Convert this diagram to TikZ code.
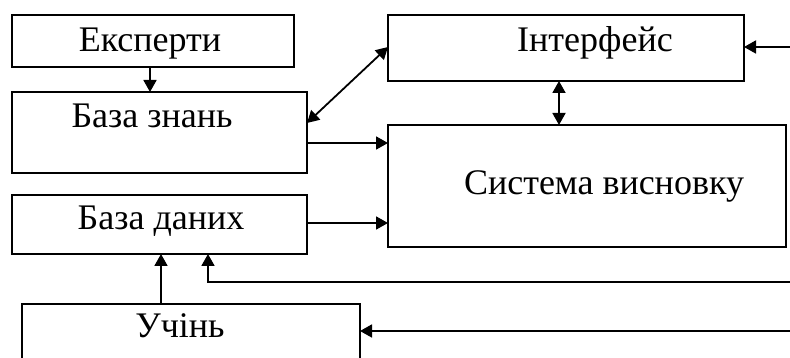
\documentclass[tikz,border=0pt]{standalone}
\usepackage{fontspec}
\setmainfont{Liberation Serif}
\usetikzlibrary{arrows.meta,calc}
\begin{document}
\begin{tikzpicture}[x=1pt,y=1pt,
  box/.style={draw, line width=1.8pt, inner sep=0pt, outer sep=0pt},
  lbl/.style={anchor=base, inner sep=0pt, font=\fontsize{36}{40}\selectfont},
  arr/.style={line width=1.8pt, -{Triangle[length=12pt,width=13pt]}},
  darr/.style={line width=1.8pt, {Triangle[length=12pt,width=13pt]}-{Triangle[length=12pt,width=13pt]}}]
\useasboundingbox (0,0) rectangle (790,358);
\clip (0,0) rectangle (790,358);
% boxes
\node[box, minimum width=282pt, minimum height=52pt] (exp) at (153,317) {};
\node[box, minimum width=295pt, minimum height=81pt] (bz) at (159.5,225.5) {};
\node[box, minimum width=356pt, minimum height=66pt] (int) at (566,310) {};
\node[box, minimum width=398pt, minimum height=122pt] (sys) at (587,172) {};
\node[box, minimum width=295pt, minimum height=59pt] (bd) at (159.5,133.5) {};
\node[box, minimum width=338pt, minimum height=74pt] (uch) at (191,17) {};
% labels
\node[lbl] (texp) at (150,306) {Експерти};
\node[lbl] (tbz) at (152,230) {База знань};
\node[lbl] (tint) at (595,306) {Інтерфейс};
\node[lbl] (tsys) at (604,163) {Система висновку};
\node[lbl] (tbd) at (161,128) {База даних};
\node[lbl] (tuch) at (180,20) {Учінь};
% free ends
\coordinate (inR) at (790,311);
\coordinate (fbR) at (790,76);
\coordinate (ucR) at (790,27);
% connectors
\draw[arr] ([xshift=-3pt]exp.south) -- ([xshift=-3pt]exp.south |- bz.north);
\draw[darr] ([yshift=9.5pt]bz.east) -- ([yshift=1pt]int.west);
\draw[arr] ([yshift=-10.5pt]bz.east) -- ([yshift=-10.5pt]bz.east -| sys.west);
\draw[darr] ([xshift=-7pt]int.south) -- ([xshift=-7pt]int.south |- sys.north);
\draw[arr] (inR) -- (inR -| int.east);
\draw[arr] ([yshift=1.5pt]bd.east) -- ([yshift=1.5pt]bd.east -| sys.west);
\draw[arr] ([xshift=-30pt]uch.north) -- ([xshift=-30pt]uch.north |- bd.south);
\draw[arr] (fbR) -| ([xshift=48.5pt]bd.south);
\draw[arr] (ucR) -- (ucR -| uch.east);
\end{tikzpicture}
\end{document}
